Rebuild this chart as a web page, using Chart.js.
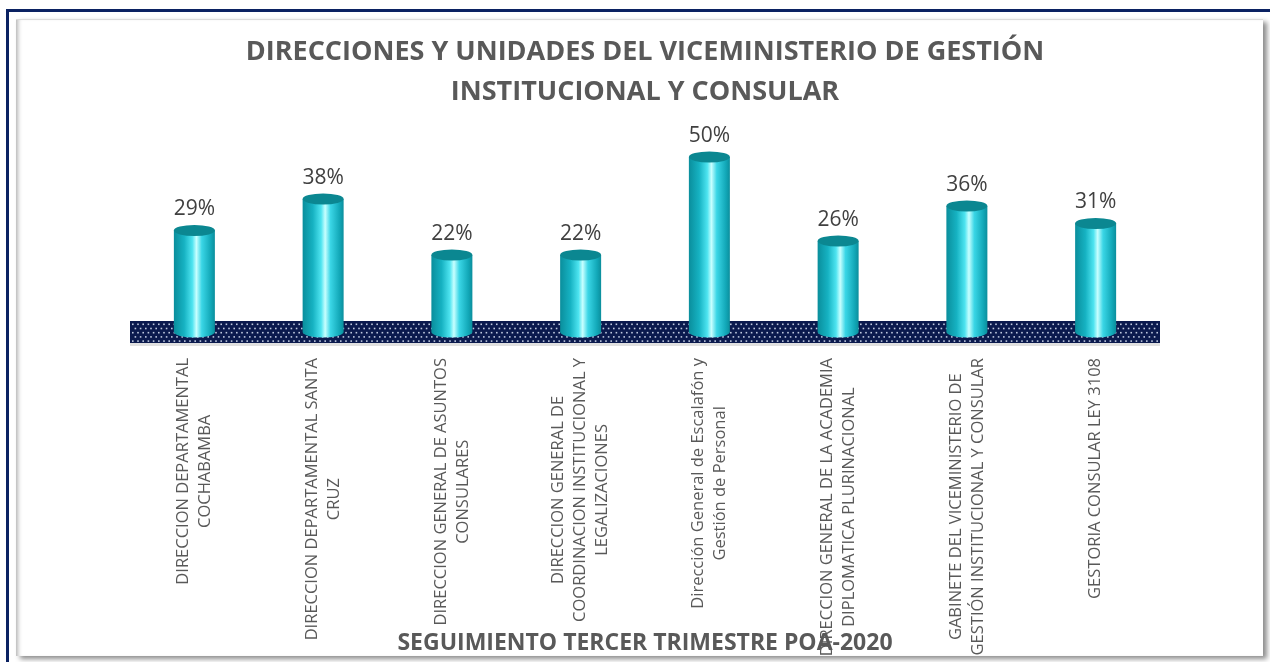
<!DOCTYPE html>
<html>
<head>
<meta charset="utf-8">
<script src="https://cdn.jsdelivr.net/npm/chart.js@4.4.1/dist/chart.umd.min.js"></script>
<style>
  html, body { margin: 0; padding: 0; background: #fff; overflow: hidden; }
  .frame { position: absolute; left: 6px; top: 9px; width: 1300px; height: 700px; border: 3px solid #0b2262; }
  .panel { position: absolute; left: 16px; top: 19px; width: 1247px; height: 636px; background: #fff;
           border-top: 1px solid #dcdcdc;
           box-shadow: 4px 3px 5px rgba(0,0,0,0.45), inset 5px 0 4px -3px rgba(0,0,0,0.3); }
  .wrap { position: absolute; left: 0; top: 0; width: 1270px; height: 662px; }
</style>
</head>
<body>
<div class="frame"></div>
<div class="panel"></div>
<div class="wrap"><canvas id="chart"></canvas></div>
<script>
const categories = [
  ["DIRECCION DEPARTAMENTAL", "COCHABAMBA"],
  ["DIRECCION DEPARTAMENTAL SANTA", "CRUZ"],
  ["DIRECCION GENERAL DE ASUNTOS", "CONSULARES"],
  ["DIRECCION GENERAL DE", "COORDINACION INSTITUCIONAL Y", "LEGALIZACIONES"],
  ["Dirección General de Escalafón y", "Gestión de Personal"],
  ["DIRECCION GENERAL DE LA ACADEMIA", "DIPLOMATICA PLURINACIONAL"],
  ["GABINETE DEL VICEMINISTERIO DE", "GESTIÓN INSTITUCIONAL Y CONSULAR"],
  ["GESTORIA CONSULAR LEY 3108"]
];
const values = [29, 38, 22, 22, 50, 26, 36, 31];
const titleLines = ["DIRECCIONES Y UNIDADES DEL VICEMINISTERIO DE GESTIÓN", "INSTITUCIONAL Y CONSULAR"];
const axisTitle = "SEGUIMIENTO TERCER TRIMESTRE POA-2020";

// dotted navy floor under the bars
const floorPlugin = {
  id: "floor",
  beforeDatasetsDraw(chart) {
    const { ctx, chartArea, scales } = chart;
    const base = scales.y.getPixelForValue(0);
    const top = base - 11, h = 22;
    ctx.save();
    ctx.fillStyle = "rgba(0,0,0,0.12)";
    ctx.fillRect(chartArea.left, top + h, chartArea.right - chartArea.left, 3);
    ctx.fillStyle = "#0b1a4e";
    ctx.fillRect(chartArea.left, top, chartArea.right - chartArea.left, h);
    ctx.fillStyle = "rgba(210,220,240,0.9)";
    let row = 0;
    for (let y = top + 2.5; y < top + h - 1; y += 4.2, row++) {
      for (let x = chartArea.left + 2 + (row % 2) * 2.6; x < chartArea.right - 1; x += 5.2) {
        ctx.fillRect(x, y, 1.6, 1.6);
      }
    }
    ctx.restore();
  }
};

// cylinders + value labels
const cylinderPlugin = {
  id: "cylinders",
  afterDatasetsDraw(chart) {
    const { ctx } = chart;
    const meta = chart.getDatasetMeta(0);
    meta.data.forEach((bar, i) => {
      const w = bar.width, l = bar.x - w / 2, r = bar.x + w / 2;
      const ry = 5.5;
      const g = ctx.createLinearGradient(l, 0, r, 0);
      g.addColorStop(0, "#0a8e9c");
      g.addColorStop(0.25, "#16b2c2");
      g.addColorStop(0.45, "#4ee4f0");
      g.addColorStop(0.55, "#c8ffff");
      g.addColorStop(0.68, "#3ad6e6");
      g.addColorStop(0.9, "#12a8b8");
      g.addColorStop(1, "#0b8e9c");
      ctx.save();
      ctx.fillStyle = g;
      ctx.beginPath();
      ctx.moveTo(l, bar.y);
      ctx.lineTo(l, bar.base);
      ctx.ellipse(bar.x, bar.base, w / 2, ry, 0, Math.PI, 0, true);
      ctx.lineTo(r, bar.y);
      ctx.closePath();
      ctx.fill();
      ctx.fillStyle = "#0b8791";
      ctx.beginPath();
      ctx.ellipse(bar.x, bar.y, w / 2, ry, 0, 0, Math.PI * 2);
      ctx.fill();
      ctx.fillStyle = "#404040";
      ctx.font = "21px 'Open Sans'";
      ctx.textAlign = "center";
      ctx.textBaseline = "middle";
      ctx.fillText(values[i] + "%", bar.x, bar.y - 21);
      ctx.restore();
    });
  },
  afterDraw(chart) {
    const { ctx, scales } = chart;
    const x = scales.x;
    const yTop = 358, lh = 22;
    ctx.save();
    ctx.fillStyle = "#595959";
    ctx.font = "16.5px 'Open Sans'";
    ctx.textAlign = "center";
    ctx.textBaseline = "middle";
    categories.forEach((lines, i) => {
      const maxW = Math.max(...lines.map(t => ctx.measureText(t).width));
      ctx.save();
      ctx.translate(x.getPixelForValue(i), yTop + maxW / 2);
      ctx.rotate(-Math.PI / 2);
      lines.forEach((t, j) => ctx.fillText(t, 0, (j - (lines.length - 1) / 2) * lh));
      ctx.restore();
    });
    ctx.restore();
  }
};

new Chart(document.getElementById("chart"), {
  type: "bar",
  data: {
    labels: categories,
    datasets: [{
      data: values,
      backgroundColor: "transparent",
      barThickness: 41
    }]
  },
  options: {
    responsive: true,
    maintainAspectRatio: false,
    animation: false,
    layout: { padding: { left: 130, right: 110, top: 0, bottom: 0 } },
    scales: {
      x: { display: false },
      y: { display: false, min: 0, max: 60 }
    },
    plugins: {
      legend: { display: false },
      tooltip: { enabled: false },
      title: {
        display: true,
        text: titleLines,
        color: "#595959",
        font: { family: "'Open Sans'", size: 27, weight: "bold", lineHeight: 40 / 27 },
        padding: { top: 32, bottom: 10 }
      },
      subtitle: {
        display: true,
        position: "bottom",
        text: axisTitle,
        color: "#595959",
        font: { family: "'Open Sans'", size: 23, weight: "bold", lineHeight: 1 },
        padding: { top: 300, bottom: 7 }
      }
    }
  },
  plugins: [floorPlugin, cylinderPlugin]
});
</script>
</body>
</html>
